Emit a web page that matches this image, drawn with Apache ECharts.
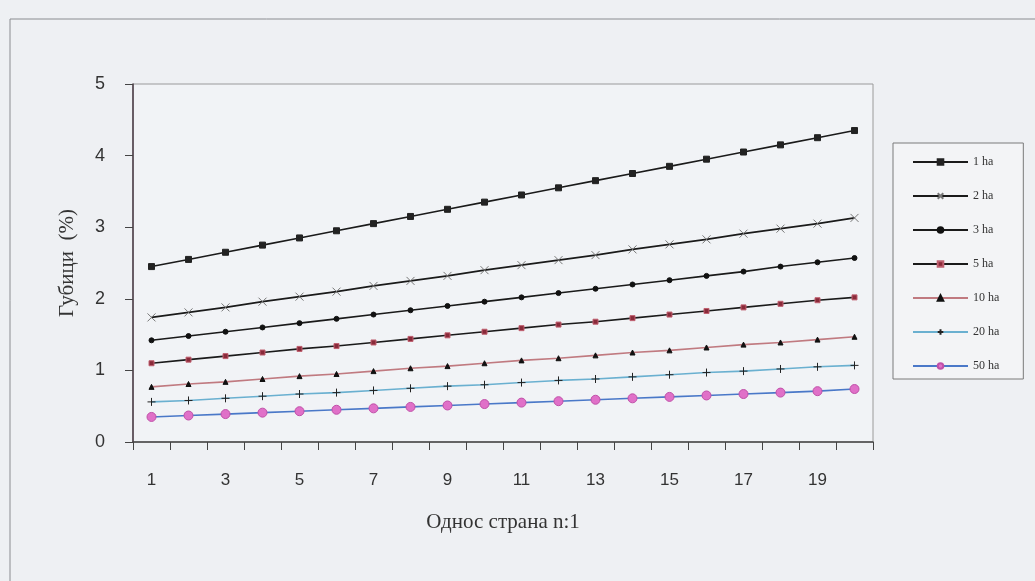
<!DOCTYPE html>
<html>
<head>
<meta charset="utf-8">
<script src="https://cdn.jsdelivr.net/npm/echarts@6/dist/echarts.min.js"></script>
<style>
  html, body { margin: 0; padding: 0; background: #eef0f3; }
  #container { width: 1035px; height: 581px; }
</style>
</head>
<body>
<div id="container"></div>
<script>
// однос страна n:1
var categories = ['1','2','3','4','5','6','7','8','9','10','11','12','13','14','15','16','17','18','19','20'];

var ha1  = [2.45,2.55,2.65,2.75,2.85,2.95,3.05,3.15,3.25,3.35,3.45,3.55,3.65,3.75,3.85,3.95,4.05,4.15,4.25,4.35];
var ha2  = [1.74,1.81,1.88,1.96,2.03,2.10,2.18,2.25,2.32,2.40,2.47,2.54,2.61,2.69,2.76,2.83,2.91,2.98,3.05,3.13];
var ha3  = [1.42,1.48,1.54,1.60,1.66,1.72,1.78,1.84,1.90,1.96,2.02,2.08,2.14,2.20,2.26,2.32,2.38,2.45,2.51,2.57];
var ha5  = [1.10,1.15,1.20,1.25,1.30,1.34,1.39,1.44,1.49,1.54,1.59,1.64,1.68,1.73,1.78,1.83,1.88,1.93,1.98,2.02];
var ha10 = [0.77,0.81,0.84,0.88,0.92,0.95,0.99,1.03,1.06,1.10,1.14,1.17,1.21,1.25,1.28,1.32,1.36,1.39,1.43,1.47];
var ha20 = [0.56,0.58,0.61,0.64,0.67,0.69,0.72,0.75,0.78,0.80,0.83,0.86,0.88,0.91,0.94,0.97,0.99,1.02,1.05,1.07];
var ha50 = [0.35,0.37,0.39,0.41,0.43,0.45,0.47,0.49,0.51,0.53,0.55,0.57,0.59,0.61,0.63,0.65,0.67,0.69,0.71,0.74];

var yTicks = [0, 1, 2, 3, 4, 5];

var crossPath = 'path://M0,0L10,10M10,0L0,10';
var plusPath = 'path://M5,0L5,10M0,5L10,5';

function line(name, data, lineColor, symbol, size, fill, border) {
    return {
        name: name,
        type: 'line',
        data: data,
        symbol: symbol,
        symbolSize: size,
        showAllSymbol: true,
        lineStyle: { color: lineColor, width: 1.6 },
        itemStyle: {
            color: fill,
            borderColor: border,
            borderWidth: 1
        }
    };
}

var myChart = echarts.init(document.getElementById('container'));
var option = {
    animation: false,
    backgroundColor: '#eef0f3',
    textStyle: { fontFamily: 'Liberation Sans' },
    graphic: [{
        type: 'rect',
        shape: { x: 10, y: 19, width: 1040, height: 580 },
        style: { fill: 'none', stroke: '#8a8c90', lineWidth: 1 },
        silent: true
    }],
    grid: {
        left: 133,
        top: 84,
        right: 162,
        bottom: 139,
        show: true,
        backgroundColor: '#f1f3f6',
        borderColor: '#9a9a9a',
        borderWidth: 1
    },
    legend: {
        orient: 'vertical',
        left: 893,
        top: 143,
        itemWidth: 55,
        itemHeight: 7,
        itemGap: 22,
        padding: [13, 24, 7, 19],
        backgroundColor: '#f3f4f6',
        borderColor: '#7a7a7a',
        borderWidth: 1,
        textStyle: { fontFamily: 'Liberation Serif', fontSize: 12, color: '#333' },
        data: ['1 ha', '2 ha', '3 ha', '5 ha', '10 ha', '20 ha', '50 ha']
    },
    xAxis: {
        type: 'category',
        data: categories,
        boundaryGap: true,
        name: 'Однос страна n:1',
        nameLocation: 'middle',
        nameGap: 70,
        nameTextStyle: { fontFamily: 'Liberation Serif', fontSize: 21, color: '#333' },
        axisLine: { lineStyle: { color: '#444', width: 1.5 } },
        axisTick: { show: true, interval: 0, length: 8, lineStyle: { color: '#444' } },
        axisLabel: { interval: 1, margin: 30, fontSize: 17, color: '#333' },
        splitLine: { show: false }
    },
    yAxis: {
        type: 'value',
        min: yTicks[0],
        max: yTicks[yTicks.length - 1],
        interval: 1,
        name: 'Губици  (%)',
        nameLocation: 'middle',
        nameGap: 55,
        nameTextStyle: { fontFamily: 'Liberation Serif', fontSize: 21, color: '#333' },
        axisLine: { show: true, lineStyle: { color: '#4a3a44', width: 1.5 } },
        axisTick: { show: true, length: 8, lineStyle: { color: '#444' } },
        axisLabel: { margin: 28, fontSize: 18, color: '#333' },
        splitLine: { show: false }
    },
    series: [
        line('1 ha', ha1, '#1a1a1a', 'rect', 6, '#222', '#222'),
        line('2 ha', ha2, '#1a1a1a', crossPath, 8, 'rgba(0,0,0,0)', '#777'),
        line('3 ha', ha3, '#1a1a1a', 'circle', 5, '#111', '#111'),
        line('5 ha', ha5, '#1a1a1a', 'rect', 5, '#8a2a3a', '#c06070'),
        line('10 ha', ha10, '#c07a80', 'triangle', 5, '#111', '#111'),
        line('20 ha', ha20, '#6ab0d0', plusPath, 8, 'rgba(0,0,0,0)', '#222'),
        line('50 ha', ha50, '#4a78c8', 'circle', 9, '#e070c8', '#c050a8')
    ]
};
myChart.setOption(option);
</script>
</body>
</html>
